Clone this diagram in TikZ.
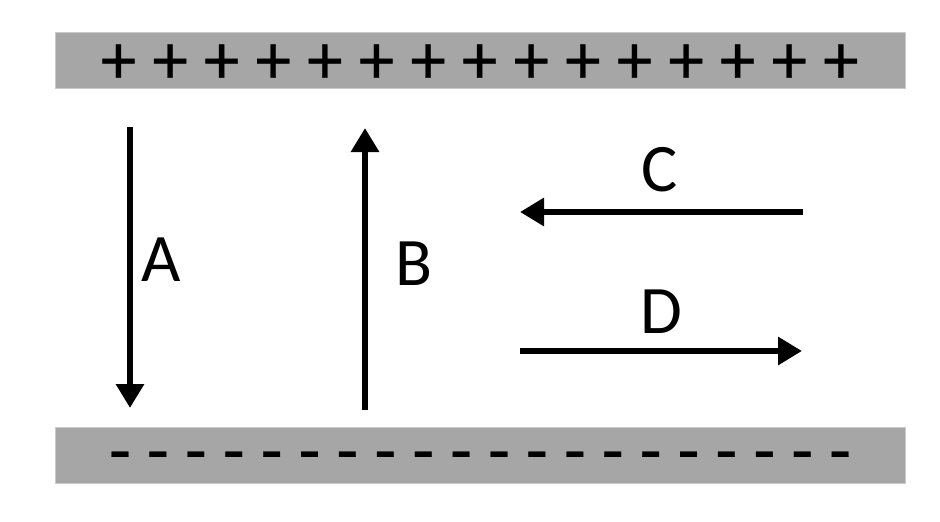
\documentclass[tikz,border=0pt]{standalone}
\usepackage{fontspec}
\setmainfont{Carlito}
\newfontfamily\chargefont[FakeBold=0.4]{Carlito}
\usetikzlibrary{arrows.meta}
\definecolor{plategray}{RGB}{166,166,166}
\begin{document}
\begin{tikzpicture}[x=1pt,y=-1pt,
  plate/.style={fill=plategray,draw=plategray!60,line width=0.8pt,minimum width=850pt,minimum height=55.5pt,inner sep=0pt},
  charge/.style={inner sep=0pt,font=\chargefont\fontsize{71}{71}\selectfont},
  lbl/.style={inner sep=0pt,font=\fontsize{68}{68}\selectfont},
  vec/.style={line width=6.5pt,-{Triangle[length=24pt,width=27pt]}}]
\useasboundingbox (0,0) rectangle (940,522);
\node[plate] (top) at (480,60.5) {};
\node[plate] (bot) at (480,455.5) {};
\foreach \i in {0,...,14}{
  \node[charge] (p\i) at ({118.5+\i*51.6},64) {+};
}
\foreach \i in {0,...,19}{
  \node[charge] (m\i) at ({120+\i*37.9},463) {-};
}
\coordinate (a1) at (130,127);
\coordinate (a2) at (130,408);
\coordinate (b1) at (365,410);
\coordinate (b2) at (365,128);
\coordinate (c1) at (803,212);
\coordinate (c2) at (520,212);
\coordinate (d1) at (520,351);
\coordinate (d2) at (802,351);
\draw[vec] (a1) -- (a2);
\draw[vec] (b1) -- (b2);
\draw[vec] (c1) -- (c2);
\draw[vec] (d1) -- (d2);
\node[lbl] (la) at (161,260) {A};
\node[lbl] (lb) at (414,264) {B};
\node[lbl] (lc) at (660,170) {C};
\node[lbl] (ld) at (661,312) {D};
\end{tikzpicture}
\end{document}
